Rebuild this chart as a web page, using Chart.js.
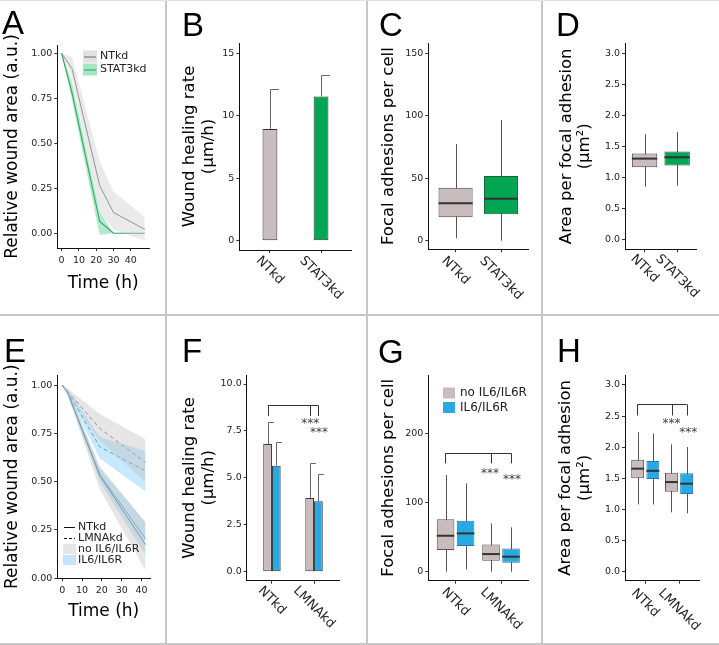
<!DOCTYPE html>
<html><head><meta charset="utf-8">
<script src="https://cdn.jsdelivr.net/npm/chart.js@4/dist/chart.umd.min.js"></script>
<style>
html,body{margin:0;padding:0;background:#fff;}
body{width:719px;height:645px;position:relative;overflow:hidden;font-family:'DejaVu Sans',sans-serif;}
canvas{position:absolute;}
.sep{position:absolute;background:#c6c6c6;z-index:5;}
.lbl{position:absolute;font-family:'Liberation Sans',Arial,sans-serif;font-size:33px;line-height:1;color:#000;z-index:6;}
</style></head>
<body>
<div class="lbl" style="left:2px;top:6px">A</div>
<div class="lbl" style="left:182px;top:8px">B</div>
<div class="lbl" style="left:379px;top:8px">C</div>
<div class="lbl" style="left:556px;top:8px">D</div>
<div class="lbl" style="left:4px;top:334px">E</div>
<div class="lbl" style="left:182px;top:334px">F</div>
<div class="lbl" style="left:378px;top:335px">G</div>
<div class="lbl" style="left:557px;top:334px">H</div>
<div class="sep" style="left:165px;top:0;width:2px;height:645px"></div>
<div class="sep" style="left:366px;top:0;width:2px;height:645px"></div>
<div class="sep" style="left:541px;top:0;width:2px;height:645px"></div>
<div class="sep" style="left:0;top:314px;width:719px;height:2px"></div>
<div class="sep" style="left:0;top:0;width:719px;height:1px;background:#e2e2e2"></div>
<div class="sep" style="left:0;top:643px;width:719px;height:2px"></div>
<script>
// ================= DATA =================
// Panel A : relative wound area vs time
const timeA = [0, 6, 22, 30, 48];
const ntkdA = [1.00, 0.915, 0.265, 0.115, 0.022];
const ntkdALo = [1.00, 0.87, 0.12, 0.02, -0.04];
const ntkdAHi = [1.00, 0.98, 0.40, 0.23, 0.09];
const stat3A = [1.00, 0.78, 0.065, 0.00, 0.00];
const stat3ALo = [1.00, 0.74, -0.01, 0.00, 0.00];
const stat3AHi = [1.00, 0.84, 0.12, 0.00, 0.00];
const woundTicks = [0, 0.25, 0.5, 0.75, 1.0];
const woundTickLabels = ['0.00', '0.25', '0.50', '0.75', '1.00'];
const timeTicks = [0, 10, 20, 30, 40];
const timeTickLabels = ['0', '10', '20', '30', '40'];

// Panel B : wound healing rate
const catsSTAT = ['NTkd', 'STAT3kd'];
const rateB = [8.95, 11.55];
const rateBErr = [12.15, 13.3];
const ticksB = [0, 5, 10, 15];
const tickLabelsB = ['0', '5', '10', '15'];

// Panel C : focal adhesions per cell (box stats)
const cLo = [1.9, 0];
const cQ1 = [18.7, 21.1];
const cMed = [29.9, 33.6];
const cQ3 = [42.4, 51.8];
const cHi = [77.4, 96.6];
const ticksC = [0, 50, 100, 150];
const tickLabelsC = ['0', '50', '100', '150'];

// Panel D : area per focal adhesion (box stats)
const dLo = [0.857, 0.873];
const dQ1 = [1.169, 1.195];
const dMed = [1.307, 1.329];
const dQ3 = [1.388, 1.42];
const dHi = [1.699, 1.736];
const ticksArea = [0, 0.5, 1, 1.5, 2, 2.5, 3];
const tickLabelsArea = ['0.0', '0.5', '1.0', '1.5', '2.0', '2.5', '3.0'];

// Panel E : wound area with / without IL6
const timeE = [0, 3, 19, 42];
const ntNoE = [1.00, 0.955, 0.53, 0.175];
const ntNoELo = [1.00, 0.94, 0.46, 0.04];
const ntNoEHi = [1.00, 0.97, 0.58, 0.29];
const ntIlE = [1.00, 0.955, 0.535, 0.205];
const ntIlELo = [1.00, 0.94, 0.50, 0.12];
const ntIlEHi = [1.00, 0.97, 0.57, 0.29];
const lmNoE = [1.00, 0.965, 0.775, 0.60];
const lmNoELo = [1.00, 0.95, 0.71, 0.50];
const lmNoEHi = [1.00, 0.98, 0.85, 0.72];
const lmIlE = [1.00, 0.96, 0.68, 0.555];
const lmIlELo = [1.00, 0.95, 0.62, 0.45];
const lmIlEHi = [1.00, 0.975, 0.73, 0.66];

// Panel F : wound healing rate, grouped
const catsLMNA = ['NTkd', 'LMNAkd'];
const rateFNo = [6.8, 3.93];
const rateFNoErr = [7.95, 5.77];
const rateFIl = [5.65, 3.75];
const rateFIlErr = [6.9, 5.18];
const ticksF = [0, 2.5, 5, 7.5, 10];
const tickLabelsF = ['0.0', '2.5', '5.0', '7.5', '10.0'];
const bracketFx = [0.9, 1.9, 2.1];
const bracketFy = [8.88, 8.3];
const starsFx = [1.91, 2.12];
const starsFy = [8.08, 7.62];

// Panel G : focal adhesions per cell, grouped boxes
const gNoLo = [0, 0], gNoQ1 = [31.3, 15.9], gNoMed = [52, 25.5], gNoQ3 = [75.7, 39.5], gNoHi = [139.8, 69.9];
const gIlLo = [3.4, 0], gIlQ1 = [37.1, 13], gIlMed = [55.4, 21.7], gIlQ3 = [73.7, 33.7], gIlHi = [127.7, 64.1];
const ticksG = [0, 100, 200];
const tickLabelsG = ['0', '100', '200'];
const bracketGx = [0.77, 1.78, 2.23];
const bracketGy = [171, 156.7];
const starsGx = [1.76, 2.24];
const starsGy = [147, 139];

// Panel H : area per focal adhesion, grouped boxes
const hNoLo = [1.08, 0.953], hNoQ1 = [1.50, 1.285], hNoMed = [1.655, 1.44], hNoQ3 = [1.80, 1.59], hNoHi = [2.24, 2.046];
const hIlLo = [1.08, 0.937], hIlQ1 = [1.49, 1.248], hIlMed = [1.62, 1.414], hIlQ3 = [1.78, 1.58], hIlHi = [2.22, 2.003];
const bracketHx = [0.77, 1.78, 2.23];
const bracketHy = [2.69, 2.51];
const starsHx = [1.78, 2.27];
const starsHy = [2.44, 2.29];

const catTicks = [1, 2];

// ================= STYLE =================
const FAM = "'DejaVu Sans', sans-serif";
const C_GRAY = '#C9BCBC';
const C_GREEN = '#00A651';
const C_BLUE = '#27AAE1';
Chart.defaults.font.family = FAM;
Chart.defaults.color = '#222';

// draws whiskers / medians / error bars from dataset arrays via the scales
const marksPlugin = {
  id: 'marks',
  beforeDatasetsDraw(chart) {
    const ctx = chart.ctx, ys = chart.scales.y;
    chart.data.datasets.forEach((ds, di) => {
      if (!ds.whLo) return;
      const meta = chart.getDatasetMeta(di);
      ctx.save();
      ctx.strokeStyle = ds.whColor || '#555';
      ctx.lineWidth = 1;
      meta.data.forEach((el, j) => {
        const x = Math.round(el.x) + 0.5;
        ctx.beginPath();
        ctx.moveTo(x, ys.getPixelForValue(ds.whHi[j]));
        ctx.lineTo(x, ys.getPixelForValue(ds.whLo[j]));
        ctx.stroke();
      });
      ctx.restore();
    });
  },
  afterDatasetsDraw(chart) {
    const ctx = chart.ctx, ys = chart.scales.y;
    chart.data.datasets.forEach((ds, di) => {
      const meta = chart.getDatasetMeta(di);
      if (ds.med) {
        ctx.save();
        ctx.strokeStyle = '#333';
        ctx.lineWidth = 2;
        meta.data.forEach((el, j) => {
          const y = ys.getPixelForValue(ds.med[j]);
          ctx.beginPath();
          ctx.moveTo(el.x - el.width / 2, y);
          ctx.lineTo(el.x + el.width / 2, y);
          ctx.stroke();
        });
        ctx.restore();
      }
      if (ds.errHi) {
        ctx.save();
        ctx.strokeStyle = '#666';
        ctx.lineWidth = 1;
        meta.data.forEach((el, j) => {
          const x = Math.round(el.x) + 0.5;
          const y1 = ys.getPixelForValue(ds.data[j].y);
          const y2 = Math.round(ys.getPixelForValue(ds.errHi[j])) + 0.5;
          ctx.beginPath();
          ctx.moveTo(x, y1);
          ctx.lineTo(x, y2);
          ctx.moveTo(x, y2);
          ctx.lineTo(x + el.width / 2 + 1, y2);
          ctx.stroke();
        });
        ctx.restore();
      }
    });
  }
};
Chart.register(marksPlugin);

function rotLabels(labels, gap) {
  return {
    id: 'rotLabels',
    afterDraw(chart) {
      const ctx = chart.ctx, xs = chart.scales.x;
      ctx.save();
      ctx.font = '13px ' + FAM;
      ctx.fillStyle = '#222';
      ctx.textAlign = 'center';
      ctx.textBaseline = 'middle';
      labels.forEach((t, i) => {
        const px = xs.getPixelForValue(catTicks[i]);
        const w = ctx.measureText(t).width;
        const half = (w + 10) / (2 * Math.SQRT2);
        ctx.save();
        ctx.translate(px, xs.top + gap + half);
        ctx.rotate(Math.PI / 4);
        ctx.fillText(t, 0, 0);
        ctx.restore();
      });
      ctx.restore();
    }
  };
}

function bracket(bx, by, sx, sy) {
  return {
    id: 'bracket',
    afterDraw(chart) {
      const ctx = chart.ctx, xs = chart.scales.x, ys = chart.scales.y;
      ctx.save();
      ctx.strokeStyle = '#333';
      ctx.lineWidth = 1;
      const yt = Math.round(ys.getPixelForValue(by[0])) + 0.5;
      const yd = ys.getPixelForValue(by[1]);
      ctx.beginPath();
      ctx.moveTo(xs.getPixelForValue(bx[0]), yt);
      ctx.lineTo(xs.getPixelForValue(bx[bx.length - 1]), yt);
      bx.forEach(v => {
        const x = Math.round(xs.getPixelForValue(v)) + 0.5;
        ctx.moveTo(x, yt);
        ctx.lineTo(x, yd);
      });
      ctx.stroke();
      ctx.font = '12px ' + FAM;
      ctx.fillStyle = '#444';
      ctx.textAlign = 'center';
      ctx.textBaseline = 'alphabetic';
      sx.forEach((v, i) => {
        ctx.fillText('***', xs.getPixelForValue(v), ys.getPixelForValue(sy[i]) + 7);
      });
      ctx.restore();
    }
  };
}

function legendPlugin(items, keyX, textX, fontSize) {
  return {
    id: 'customLegend',
    afterDraw(chart) {
      const ctx = chart.ctx;
      ctx.save();
      ctx.font = fontSize + 'px ' + FAM;
      ctx.textBaseline = 'middle';
      ctx.textAlign = 'left';
      items.forEach(it => {
        if (it.box) {
          ctx.fillStyle = it.box;
          ctx.fillRect(keyX[0], it.y - it.bh / 2, keyX[1] - keyX[0], it.bh);
        }
        if (it.line) {
          ctx.strokeStyle = it.line;
          ctx.lineWidth = it.lw || 1;
          ctx.setLineDash(it.dash || []);
          ctx.beginPath();
          ctx.moveTo(keyX[0] + 1, it.y + 0.5);
          ctx.lineTo(keyX[1] - 1, it.y + 0.5);
          ctx.stroke();
          ctx.setLineDash([]);
        }
        ctx.fillStyle = '#222';
        ctx.fillText(it.text, textX, it.y);
      });
      ctx.restore();
    }
  };
}

function panel(o) {
  const [bx, by, bw, bh] = o.box, [L, T, R, B] = o.plot;
  const cv = document.createElement('canvas');
  cv.width = bw; cv.height = bh;
  cv.style.left = bx + 'px'; cv.style.top = by + 'px';
  cv.style.width = bw + 'px'; cv.style.height = bh + 'px';
  document.body.appendChild(cv);
  const xTitle = o.xTitle
    ? {display: true, text: o.xTitle, color: '#000', font: {size: 17, lineHeight: 1.2}, padding: {top: 0, bottom: o.xTitlePad}}
    : {display: false};
  const options = {
    responsive: false, animation: false, devicePixelRatio: 1,
    layout: {padding: {left: 0, top: T - by, right: bx + bw - R, bottom: 0}},
    plugins: {legend: {display: false}, tooltip: {enabled: false}},
    scales: {
      x: {
        type: 'linear', min: o.xmin, max: o.xmax, offset: false,
        afterBuildTicks: s => { s.ticks = o.xTicks.map(v => ({value: v})); },
        afterFit: s => { s.height = by + bh - B; },
        ticks: {display: !!o.xTickLabels, autoSkip: false, maxRotation: 0, minRotation: 0, padding: 4,
          color: '#222', font: {size: 9.5}, callback: (v, i) => (o.xTickLabels ? o.xTickLabels[i] : '')},
        grid: {drawOnChartArea: false, drawTicks: true, tickLength: 3, color: '#333', offset: false},
        border: {display: true, color: '#111', width: 1},
        title: xTitle
      },
      y: {
        type: 'linear', min: o.ymin, max: o.ymax,
        afterBuildTicks: s => { s.ticks = o.yTicks.map(v => ({value: v})); },
        afterFit: s => { s.width = L - bx; },
        ticks: {autoSkip: false, padding: 2, color: '#222', font: {size: 9.5}, callback: (v, i) => o.yTickLabels[i]},
        grid: {drawOnChartArea: false, drawTicks: true, tickLength: 3, color: '#333'},
        border: {display: true, color: '#111', width: 1},
        title: {display: true, text: o.yTitle, color: '#000',
          font: {size: o.yTitleSize || 16.5, lineHeight: o.yTitleLH || 1.2}, padding: {top: o.yTitlePad, bottom: 0}}
      }
    }
  };
  return new Chart(cv, {type: o.type, data: {datasets: o.datasets}, options, plugins: o.plugins || []});
}

function pts(xs, ys) { return xs.map((x, i) => ({x, y: ys[i]})); }
function ribbon(xs, hi, lo, color) {
  return [
    {data: pts(xs, hi), borderColor: 'rgba(0,0,0,0)', borderWidth: 0, pointRadius: 0, fill: false, tension: 0},
    {data: pts(xs, lo), borderColor: 'rgba(0,0,0,0)', borderWidth: 0, pointRadius: 0, fill: '-1', backgroundColor: color, tension: 0}
  ];
}
function line(xs, ys, color, dash, w) {
  return {data: pts(xs, ys), borderColor: color, borderWidth: w || 1, borderDash: dash || [], pointRadius: 0, fill: false, tension: 0};
}
function boxDS(q1, q3, lo, hi, med, fill, border, catPct, barPct) {
  return {data: q1.map((v, i) => ({x: catTicks[i], y: [v, q3[i]]})), backgroundColor: fill, borderColor: border,
    borderWidth: 1, borderSkipped: false, categoryPercentage: catPct, barPercentage: barPct,
    whLo: lo, whHi: hi, med: med, whColor: '#555'};
}
function barDS(vals, err, fill, catPct, barPct) {
  return {data: vals.map((v, i) => ({x: catTicks[i], y: v})), backgroundColor: fill, borderColor: '#333',
    borderWidth: 1, borderSkipped: false, categoryPercentage: catPct, barPercentage: barPct, errHi: err};
}

// ---------- A ----------
panel({
  type: 'line', box: [0, 0, 166, 315], plot: [57.3, 45, 149, 248],
  xmin: -2.5, xmax: 50.5, xTicks: timeTicks, xTickLabels: timeTickLabels, xTitle: 'Time (h)', xTitlePad: 21.5,
  ymin: -0.082, ymax: 1.046, yTicks: woundTicks, yTickLabels: woundTickLabels,
  yTitle: 'Relative wound area (a.u.)', yTitleSize: 17, yTitlePad: 2,
  datasets: [
    ...ribbon(timeA, ntkdAHi, ntkdALo, 'rgba(205,205,205,0.42)'),
    ...ribbon(timeA, stat3AHi, stat3ALo, 'rgba(60,200,125,0.38)'),
    line(timeA, ntkdA, '#6a6a6a'),
    line(timeA, stat3A, '#2a9d5c', null, 1.2)
  ],
  plugins: [legendPlugin([
    {y: 56.5, text: 'NTkd', line: '#6a6a6a', box: 'rgba(205,205,205,0.6)', bh: 12},
    {y: 69.5, text: 'STAT3kd', line: '#2a9d5c', box: 'rgba(60,200,125,0.45)', bh: 12}
  ], [83, 97], 100, 11)]
});

// ---------- B ----------
panel({
  type: 'bar', box: [166, 0, 201, 315], plot: [239.3, 43, 351.7, 250],
  xmin: 0.4, xmax: 2.6, xTicks: catTicks,
  ymin: -0.75, ymax: 15.83, yTicks: ticksB, yTickLabels: tickLabelsB,
  yTitle: ['Wound healing rate', '(µm/h)'], yTitleLH: 1.15, yTitlePad: 14.5,
  datasets: [{...barDS(rateB, rateBErr, [C_GRAY, C_GREEN], 0.29, 1)}],
  plugins: [rotLabels(catsSTAT, 5)]
});

// ---------- C ----------
panel({
  type: 'bar', box: [367, 0, 175, 315], plot: [428.3, 43, 528.3, 249.3],
  xmin: 0.4, xmax: 2.6, xTicks: catTicks,
  ymin: -6.9, ymax: 158.2, yTicks: ticksC, yTickLabels: tickLabelsC,
  yTitle: 'Focal adhesions per cell', yTitlePad: 12,
  datasets: [boxDS(cQ1, cQ3, cLo, cHi, cMed, [C_GRAY, C_GREEN], ['#444', '#1f5e3a'], 0.75, 1)],
  plugins: [rotLabels(catsSTAT, 6)]
});

// ---------- D ----------
panel({
  type: 'bar', box: [542, 0, 177, 315], plot: [625, 43.3, 696.7, 249.3],
  xmin: 0.4, xmax: 2.6, xTicks: catTicks,
  ymin: -0.15, ymax: 3.16, yTicks: ticksArea, yTickLabels: tickLabelsArea,
  yTitle: ['Area per focal adhesion', '(µm²)'], yTitleLH: 1.1, yTitlePad: 15.6,
  datasets: [boxDS(dQ1, dQ3, dLo, dHi, dMed, [C_GRAY, C_GREEN], ['#444', '#1f5e3a'], 0.78, 1)],
  plugins: [rotLabels(catsSTAT, 4)]
});

// ---------- E ----------
panel({
  type: 'line', box: [0, 315, 166, 330], plot: [57.3, 375, 150, 578.3],
  xmin: -2.5, xmax: 44.3, xTicks: timeTicks, xTickLabels: timeTickLabels, xTitle: 'Time (h)', xTitlePad: 23,
  ymin: 0, ymax: 1.052, yTicks: woundTicks, yTickLabels: woundTickLabels,
  yTitle: 'Relative wound area (a.u.)', yTitleSize: 17, yTitlePad: 2.3,
  datasets: [
    ...ribbon(timeE, lmNoEHi, lmNoELo, 'rgba(190,190,190,0.38)'),
    ...ribbon(timeE, ntNoEHi, ntNoELo, 'rgba(190,190,190,0.38)'),
    ...ribbon(timeE, lmIlEHi, lmIlELo, 'rgba(110,195,245,0.38)'),
    ...ribbon(timeE, ntIlEHi, ntIlELo, 'rgba(110,195,245,0.38)'),
    line(timeE, lmNoE, '#777', [4, 3]),
    line(timeE, ntNoE, '#555'),
    line(timeE, lmIlE, '#3b8fc9', [4, 3]),
    line(timeE, ntIlE, '#3b8fc9')
  ],
  plugins: [legendPlugin([
    {y: 212, text: 'NTkd', line: '#111'},
    {y: 223, text: 'LMNAkd', line: '#111', dash: [3, 2]},
    {y: 234, text: 'no IL6/IL6R', box: '#e6e6e6', bh: 10},
    {y: 245, text: 'IL6/IL6R', box: '#c3e5f8', bh: 10}
  ], [63, 76], 78, 11)]
});

// ---------- F ----------
panel({
  type: 'bar', box: [166, 315, 201, 330], plot: [246.7, 375, 339.3, 580.7],
  xmin: 0.4, xmax: 2.6, xTicks: catTicks,
  ymin: -0.48, ymax: 10.48, yTicks: ticksF, yTickLabels: tickLabelsF,
  yTitle: ['Wound healing rate', '(µm/h)'], yTitleLH: 1.15, yTitlePad: 14.5,
  datasets: [barDS(rateFNo, rateFNoErr, C_GRAY, 0.414, 1), barDS(rateFIl, rateFIlErr, C_BLUE, 0.414, 1)],
  plugins: [rotLabels(catsLMNA, 4.5), bracket(bracketFx, bracketFy, starsFx, starsFy)]
});

// ---------- G ----------
panel({
  type: 'bar', box: [367, 315, 175, 330], plot: [428.3, 375, 528.3, 580.7],
  xmin: 0.4, xmax: 2.6, xTicks: catTicks,
  ymin: -13, ymax: 284.4, yTicks: ticksG, yTickLabels: tickLabelsG,
  yTitle: 'Focal adhesions per cell', yTitlePad: 12,
  datasets: [
    boxDS(gNoQ1, gNoQ3, gNoLo, gNoHi, gNoMed, C_GRAY, '#555', 0.88, 0.88),
    boxDS(gIlQ1, gIlQ3, gIlLo, gIlHi, gIlMed, C_BLUE, '#2479b0', 0.88, 0.88)
  ],
  plugins: [rotLabels(catsLMNA, 6), bracket(bracketGx, bracketGy, starsGx, starsGy),
    legendPlugin([
      {y: 78, text: 'no IL6/IL6R', box: C_GRAY, bh: 11},
      {y: 92.5, text: 'IL6/IL6R', box: C_BLUE, bh: 11}
    ], [76, 88], 93, 12)]
});

// ---------- H ----------
panel({
  type: 'bar', box: [542, 315, 177, 330], plot: [625, 375, 699.3, 580.7],
  xmin: 0.4, xmax: 2.6, xTicks: catTicks,
  ymin: -0.145, ymax: 3.16, yTicks: ticksArea, yTickLabels: tickLabelsArea,
  yTitle: ['Area per focal adhesion', '(µm²)'], yTitleLH: 1.17, yTitlePad: 14,
  datasets: [
    boxDS(hNoQ1, hNoQ3, hNoLo, hNoHi, hNoMed, C_GRAY, '#555', 0.9, 0.85),
    boxDS(hIlQ1, hIlQ3, hIlLo, hIlHi, hIlMed, C_BLUE, '#2479b0', 0.9, 0.85)
  ],
  plugins: [rotLabels(catsLMNA, 7), bracket(bracketHx, bracketHy, starsHx, starsHy)]
});
</script>
</body></html>
